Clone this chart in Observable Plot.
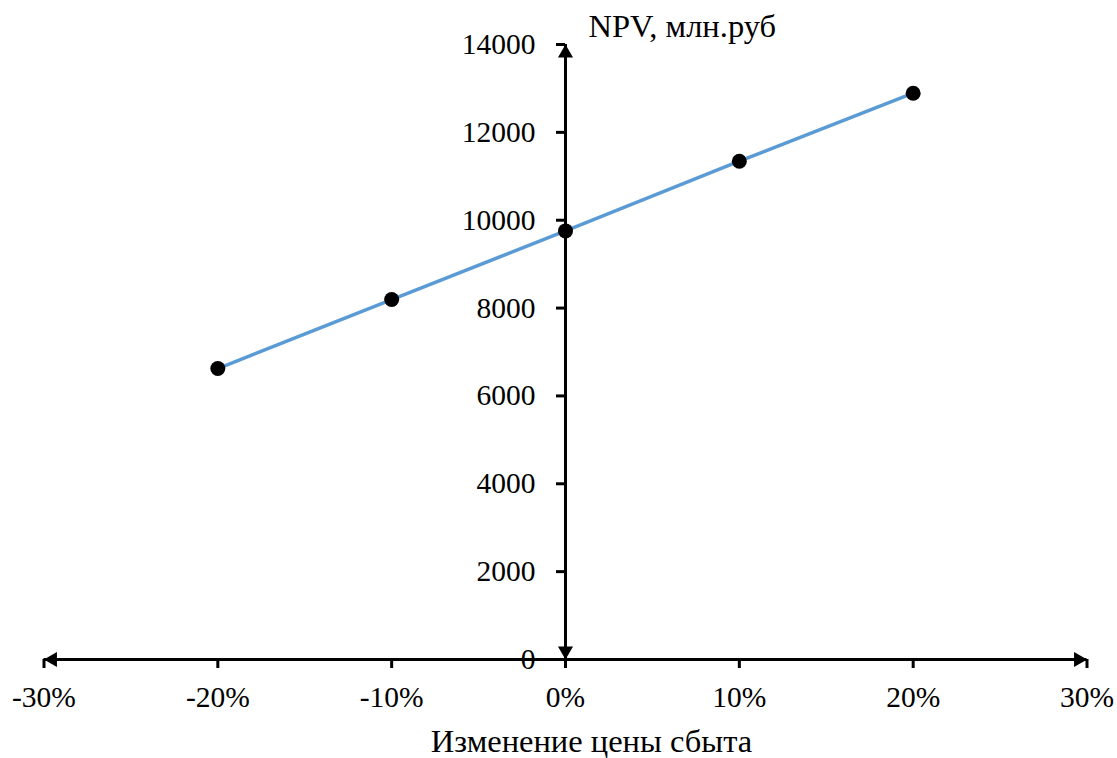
<!DOCTYPE html>
<html>
<head>
<meta charset="utf-8">
<script src="https://cdn.jsdelivr.net/npm/d3@7"></script>
<script src="https://cdn.jsdelivr.net/npm/@observablehq/plot@0.6"></script>
<style>
  html, body { margin: 0; padding: 0; background: #fff; }
  #chart svg { display: block; }
</style>
</head>
<body>
<div id="chart"></div>
<script>
const changes = [-0.2, -0.1, 0, 0.1, 0.2];
const npv = [6624, 8195, 9757, 11343, 12891];
const xTicks = [-0.3, -0.2, -0.1, 0, 0.1, 0.2, 0.3];
const yTicks = [0, 2000, 4000, 6000, 8000, 10000, 12000, 14000];
const xTitle = "Изменение цены сбыта";
const yTitle = "NPV, млн.руб";

const data = changes.map((c, i) => ({x: c, y: npv[i]}));
const xMin = xTicks[0], xMax = xTicks[xTicks.length - 1];
const yMin = yTicks[0], yMax = yTicks[yTicks.length - 1];
const pct = d => `${Math.round(d * 100)}%`;
const font = "Liberation Serif, Times New Roman, serif";
const fs = 29.5;
const tfs = 32.5;
const ar = 5.6, ao = 8.6;

const chart = Plot.plot({
  width: 1117,
  height: 758,
  marginLeft: 43.5,
  marginRight: 30.5,
  marginTop: 44,
  marginBottom: 99,
  x: {domain: [xMin, xMax], axis: null},
  y: {domain: [yMin, yMax], axis: null},
  style: {fontFamily: font, background: "#fff"},
  marks: [
    // axes lines
    Plot.ruleY([0], {stroke: "#000", strokeWidth: 3}),
    Plot.ruleX([0], {stroke: "#000", strokeWidth: 3}),
    // x ticks
    Plot.ruleX(xTicks, {x: d => d, y1: 0, y2: 0, insetBottom: -9, stroke: "#000", strokeWidth: 3}),
    // y ticks
    Plot.ruleY(yTicks, {y: d => d, x1: 0, x2: 0, insetLeft: -9, stroke: "#000", strokeWidth: 3}),
    // arrowheads
    Plot.dot([{x: xMax, y: 0}], {x: "x", y: "y", symbol: "triangle", r: ar, fill: "#000", stroke: null, rotate: 90, dx: -ao}),
    Plot.dot([{x: xMin, y: 0}], {x: "x", y: "y", symbol: "triangle", r: ar, fill: "#000", stroke: null, rotate: -90, dx: ao}),
    Plot.dot([{x: 0, y: yMax}], {x: "x", y: "y", symbol: "triangle", r: ar, fill: "#000", stroke: null, rotate: 0, dy: ao}),
    Plot.dot([{x: 0, y: yMin}], {x: "x", y: "y", symbol: "triangle", r: ar, fill: "#000", stroke: null, rotate: 180, dy: -ao}),
    // tick labels
    Plot.text(xTicks, {x: d => d, y: 0, text: pct, dy: 38, fontSize: fs, fill: "#000"}),
    Plot.text(yTicks, {x: 0, y: d => d, text: d => String(d), textAnchor: "end", dx: -30, fontSize: fs, fill: "#000"}),
    // titles
    Plot.text([xTitle], {x: 0, y: 0, text: d => d, dx: 26, dy: 82, fontSize: tfs, fill: "#000"}),
    Plot.text([yTitle], {x: 0, y: yMax, text: d => d, textAnchor: "start", dx: 23, dy: -18, fontSize: tfs, fill: "#000"}),
    // data
    Plot.line(data, {x: "x", y: "y", stroke: "#5B9BD5", strokeWidth: 3.5}),
    Plot.dot(data, {x: "x", y: "y", r: 7.5, fill: "#000", stroke: null})
  ]
});
document.getElementById("chart").appendChild(chart);
</script>
</body>
</html>
